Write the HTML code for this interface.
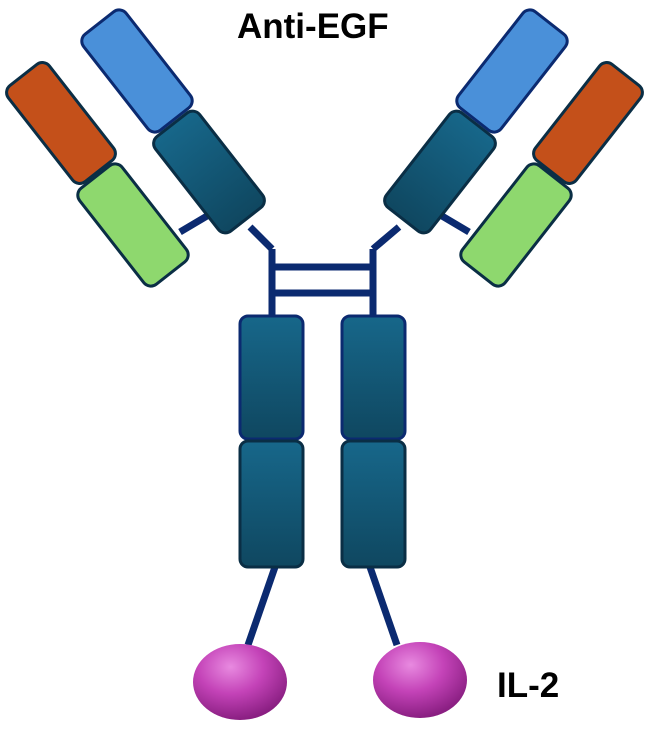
<!DOCTYPE html>
<html><head><meta charset="utf-8"><style>
html,body{margin:0;padding:0;background:#fff;width:651px;height:729px;overflow:hidden}
svg{display:block}
text{font-family:"Liberation Sans",Arial,sans-serif;font-weight:bold;fill:#000}
</style></head><body>
<svg width="651" height="729" viewBox="0 0 651 729" xmlns="http://www.w3.org/2000/svg">
<defs>
<linearGradient id="tl" x1="0" y1="0" x2="0" y2="1"><stop offset="0" stop-color="#17678a"/><stop offset="1" stop-color="#0f4760"/></linearGradient>
<radialGradient id="mg" cx="0.4" cy="0.3" r="0.7"><stop offset="0" stop-color="#e88ae0"/><stop offset="0.5" stop-color="#c443b8"/><stop offset="1" stop-color="#8a1f82"/></radialGradient>
<g id="arm">
<line x1="180" y1="232" x2="207" y2="216" stroke="#0b2a70" stroke-width="7"/>
<rect x="-27" y="-61" width="54" height="122" rx="9" transform="translate(137,71) rotate(-38)" fill="#4a90d9" stroke="#0b2a70" stroke-width="3"/>
<rect x="-28" y="-60" width="56" height="120" rx="9" transform="translate(209,172) rotate(-38)" fill="url(#tl)" stroke="#0a2e45" stroke-width="3"/>
<rect x="-26" y="-61" width="52" height="122" rx="9" transform="translate(61,123) rotate(-38)" fill="#c4501a" stroke="#0a2e45" stroke-width="3"/>
<rect x="-27" y="-61" width="54" height="122" rx="9" transform="translate(133,225) rotate(-38)" fill="#8ed86e" stroke="#0a2e45" stroke-width="3"/>
</g>
<g id="stem">
<line x1="272" y1="249" x2="272" y2="318" stroke="#0b2a70" stroke-width="7"/>
<line x1="275" y1="567" x2="248" y2="645" stroke="#0b2a70" stroke-width="7"/>
<rect x="240" y="316" width="63" height="123" rx="8" fill="url(#tl)" stroke="#0b2a70" stroke-width="3"/>
<rect x="240" y="441" width="63" height="126" rx="8" fill="url(#tl)" stroke="#0a2e45" stroke-width="3"/>
</g>
</defs>
<line x1="272" y1="267" x2="373" y2="267" stroke="#0b2a70" stroke-width="7"/>
<line x1="272" y1="293" x2="373" y2="293" stroke="#0b2a70" stroke-width="7"/>
<polyline points="250,227 272,249" fill="none" stroke="#0b2a70" stroke-width="7"/>
<polyline points="399,227 373,249" fill="none" stroke="#0b2a70" stroke-width="7"/>
<use href="#arm"/>
<use href="#arm" transform="translate(649,0) scale(-1,1)"/>
<use href="#stem"/>
<use href="#stem" transform="translate(645,0) scale(-1,1)"/>
<ellipse cx="240" cy="682" rx="47" ry="38" fill="url(#mg)"/>
<ellipse cx="420" cy="680" rx="47" ry="38" fill="url(#mg)"/>
<text x="237" y="38" font-size="35">Anti-EGF</text>
<text x="497" y="697" font-size="35">IL-2</text>
</svg>
</body></html>
